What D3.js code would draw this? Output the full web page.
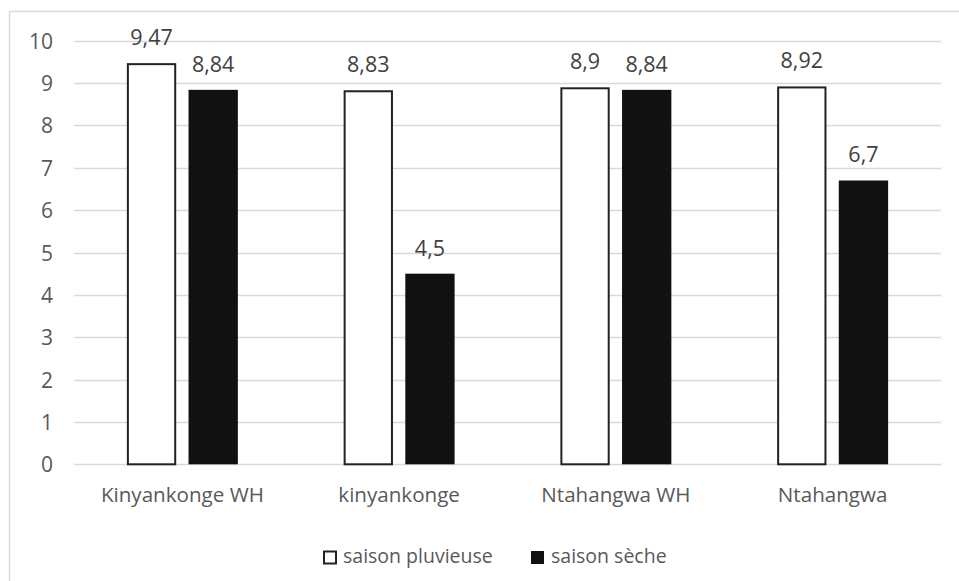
<!DOCTYPE html>
<html><head><meta charset="utf-8">
<script src="https://cdn.jsdelivr.net/npm/d3@7"></script>
<style>body{margin:0;background:#fff}svg{display:block}text{font-family:"Open Sans",sans-serif}</style>
</head><body><svg id="c" width="959" height="581"></svg>
<script>
const categories = ["Kinyankonge WH", "kinyankonge", "Ntahangwa WH", "Ntahangwa"];
const seriesNames = ["saison pluvieuse", "saison sèche"];
const pluvieuse = [9.47, 8.83, 8.9, 8.92];
const seche = [8.84, 4.5, 8.84, 6.7];
const pluvieuseLabels = ["9,47", "8,83", "8,9", "8,92"];
const secheLabels = ["8,84", "4,5", "8,84", "6,7"];
const yTicks = [0,1,2,3,4,5,6,7,8,9,10];

const svg = d3.select("#c");
svg.append("rect").attr("x",9.5).attr("y",11.5).attr("width",970).attr("height",600)
  .attr("fill","#fff").attr("stroke","#d9d9d9").attr("stroke-width",1.5);

const pLeft=74, pRight=941, pTop=40.7, pBottom=464.3;
const y = d3.scaleLinear().domain([0,10]).range([pBottom, pTop]);
const x0 = d3.scaleBand().domain(categories).range([pLeft,pRight]).paddingInner(0.488).paddingOuter(0.244);
const x1 = d3.scaleBand().domain(seriesNames).range([0,x0.bandwidth()]).paddingInner(0.2);

// grid
svg.append("g").selectAll("line").data(yTicks).join("line")
  .attr("x1",pLeft).attr("x2",pRight)
  .attr("y1",d=>Math.round(y(d))+0.5).attr("y2",d=>Math.round(y(d))+0.5)
  .attr("stroke","#d9d9d9").attr("stroke-width",1.3);

// y axis labels
const yAxis = d3.axisLeft(y).tickValues(yTicks).tickSize(0).tickPadding(0).tickFormat(d3.format("d"));
const gy = svg.append("g").attr("transform",`translate(${53},0)`).call(yAxis);
gy.select(".domain").remove();
gy.selectAll("text").attr("font-size",21).attr("dy","0.36em").attr("fill","#595959").attr("font-family","'Open Sans',sans-serif");

// x axis labels
const xAxis = d3.axisBottom(x0).tickSize(0).tickPadding(0);
const gx = svg.append("g").attr("transform",`translate(0,${502})`).call(xAxis);
gx.select(".domain").remove();
gx.selectAll("text").attr("font-size",20.6).attr("dy","0").attr("fill","#595959").attr("font-family","'Open Sans',sans-serif");

const data = categories.map((c,i)=>({c, vals:[
  {s:seriesNames[0], v:pluvieuse[i], l:pluvieuseLabels[i]},
  {s:seriesNames[1], v:seche[i], l:secheLabels[i]}]}));

const g = svg.append("g").selectAll("g").data(data).join("g")
  .attr("transform",d=>`translate(${x0(d.c)},0)`);
g.selectAll("rect").data(d=>d.vals).join("rect")
  .attr("x",d=>x1(d.s)+(d.s===seriesNames[0]?1:0))
  .attr("y",d=>y(d.v)+(d.s===seriesNames[0]?1:0))
  .attr("width",d=>x1.bandwidth()-(d.s===seriesNames[0]?2:0))
  .attr("height",d=>pBottom-y(d.v)-(d.s===seriesNames[0]?1:0))
  .attr("fill",d=>d.s===seriesNames[0]?"#ffffff":"#111111")
  .attr("stroke",d=>d.s===seriesNames[0]?"#222222":"none")
  .attr("stroke-width",2);
g.selectAll("text").data(d=>d.vals).join("text")
  .attr("x",d=>x1(d.s)+x1.bandwidth()/2)
  .attr("y",d=>y(d.v)-18)
  .attr("text-anchor","middle").attr("font-size",21.5).attr("fill","#404040")
  .text(d=>d.l);

// legend
const leg = svg.append("g");
const legItems = [{s:seriesNames[0], x:323}, {s:seriesNames[1], x:531}];
leg.selectAll("rect").data(legItems).join("rect")
  .attr("x",(d,i)=>i===0?d.x+1:d.x).attr("y",(d,i)=>i===0?551.5:551)
  .attr("width",(d,i)=>i===0?12:13).attr("height",(d,i)=>i===0?12:13)
  .attr("fill",(d,i)=>i===0?"#fff":"#111").attr("stroke",(d,i)=>i===0?"#222":"none").attr("stroke-width",2);
leg.selectAll("text").data(legItems).join("text")
  .attr("x",d=>d.x+20).attr("y",563)
  .attr("font-size",19.5).attr("fill","#595959").text(d=>d.s);
</script></body></html>
